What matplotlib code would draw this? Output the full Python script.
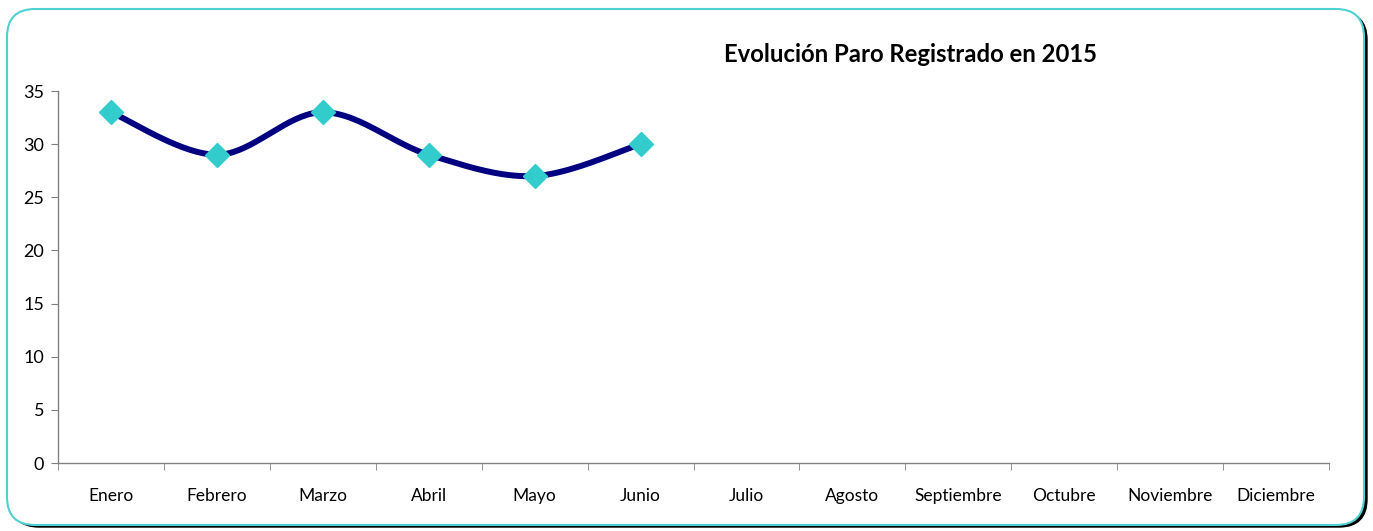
import numpy as np
import matplotlib
matplotlib.use("Agg")
import matplotlib.pyplot as plt
from matplotlib.patches import FancyBboxPatch

plt.rcParams['font.family'] = ['Lato', 'DejaVu Sans']

meses = ['Enero', 'Febrero', 'Marzo', 'Abril', 'Mayo', 'Junio', 'Julio',
         'Agosto', 'Septiembre', 'Octubre', 'Noviembre', 'Diciembre']
paro = [33, 29, 33, 29, 27, 30]
yticks = [0, 5, 10, 15, 20, 25, 30, 35]
titulo = 'Evolución Paro Registrado en 2015'


def suavizar(xs, ys, n=40):
    # curva suavizada tipo Excel (bezier con tension 1/6)
    pts = np.column_stack([xs, ys]).astype(float)
    out = []
    for i in range(len(pts) - 1):
        p0 = pts[i - 1] if i > 0 else pts[i]
        p1 = pts[i]
        p2 = pts[i + 1]
        p3 = pts[i + 2] if i + 2 < len(pts) else pts[i + 1]
        c1 = p1 + (p2 - p0) / 6
        c2 = p2 - (p3 - p1) / 6
        t = np.linspace(0, 1, n)[:, None]
        seg = ((1 - t) ** 3) * p1 + 3 * ((1 - t) ** 2) * t * c1 + 3 * (1 - t) * t ** 2 * c2 + t ** 3 * p2
        out.append(seg if i == 0 else seg[1:])
    seg = np.vstack(out)
    return seg[:, 0], seg[:, 1]


fig = plt.figure(figsize=(13.73, 5.31), dpi=100)

# marco redondeado con sombra
bg = fig.add_axes([0, 0, 1, 1])
bg.set_xlim(0, 1373)
bg.set_ylim(531, 0)
bg.axis('off')
sombra = FancyBboxPatch((41, 42), 1296, 455, boxstyle='round,pad=30,rounding_size=28',
                        fc='black', ec='black', lw=1)
marco = FancyBboxPatch((37, 39), 1297, 456, boxstyle='round,pad=30,rounding_size=28',
                       fc='white', ec='#4FD1D1', lw=1.5)
bg.add_patch(sombra)
bg.add_patch(marco)

ax = fig.add_axes([58 / 1373, 68 / 531, 1271 / 1373, 372 / 531])
x = np.arange(len(paro))
sx, sy = suavizar(x, paro)
ax.plot(sx, sy, color='#000080', lw=4.3, solid_capstyle='round', zorder=3)
ax.plot(x, paro, 'D', color='#33CCCC', ms=12, mec='#33CCCC', zorder=4)

ax.set_xlim(-0.5, len(meses) - 0.5)
ax.set_ylim(0, 35)
ax.set_yticks(yticks)
ax.set_xticks(np.arange(len(meses)))
ax.set_xticklabels(meses)
ax.set_xticks(np.arange(len(meses) + 1) - 0.5, minor=True)
ax.tick_params(axis='x', which='major', length=0, pad=18, labelsize=12.5)
ax.tick_params(axis='x', which='minor', length=5, color='#808080', direction='out')
ax.tick_params(axis='y', length=5, color='#808080', labelsize=13, pad=5)
for s in ['top', 'right']:
    ax.spines[s].set_visible(False)
for s in ['left', 'bottom']:
    ax.spines[s].set_color('#808080')
    ax.spines[s].set_linewidth(1)
ax.patch.set_alpha(0)

fig.text(910 / 1373, 1 - 54 / 531, titulo, ha='center', va='center',
         fontsize=17.2, fontweight='bold')

fig.savefig('out.png', dpi=100)
